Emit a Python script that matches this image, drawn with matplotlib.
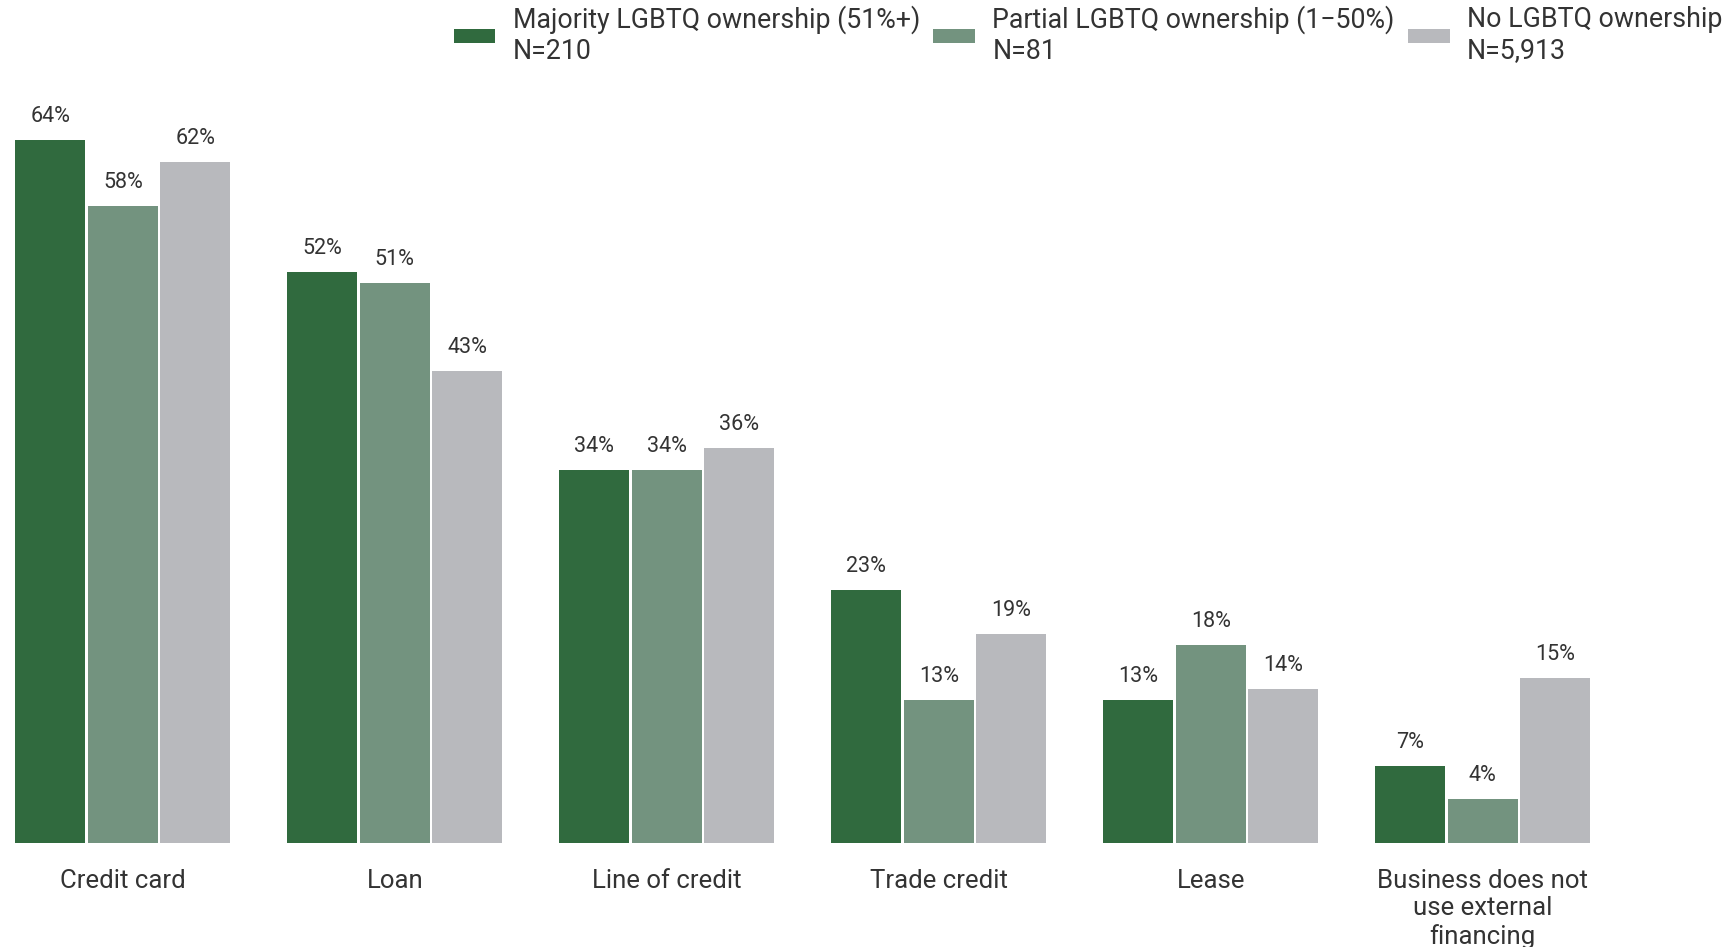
import numpy as np
import matplotlib
matplotlib.use("Agg")
import matplotlib.pyplot as plt

plt.rcParams['font.family'] = ['Roboto', 'DejaVu Sans']

# data
categories = ['Credit card', 'Loan', 'Line of credit', 'Trade credit', 'Lease',
              'Business does not\nuse external\nfinancing']
majority = [64, 52, 34, 23, 13, 7]
partial = [58, 51, 34, 13, 18, 4]
no_lgbtq = [62, 43, 36, 19, 14, 15]
series_names = ['Majority LGBTQ ownership (51%+)\nN=210',
                'Partial LGBTQ ownership (1\u221250%)\nN=81',
                'No LGBTQ ownership\nN=5,913']
colors = ['#306a3e', '#73937f', '#b8b9bd']
text_color = '#333333'

fig = plt.figure(figsize=(17.27, 9.47), dpi=100)
ax = fig.add_axes([8.6 / 1727, 104 / 947, (1646 - 8.6) / 1727, 768.6 / 947])

x = np.arange(len(categories))
step = 0.2667
width = 0.257
for i, (vals, name, c) in enumerate(zip([majority, partial, no_lgbtq], series_names, colors)):
    pos = x + (i - 1) * step
    bars = ax.bar(pos, vals, width=width, color=c, label=name)
    for b, v in zip(bars, vals):
        ax.annotate(f"{v}%", (b.get_x() + b.get_width() / 2, v),
                    xytext=(0, 13), textcoords='offset points',
                    ha='center', va='baseline', fontsize=15.5, color=text_color)

ax.set_xlim(-0.42, 5.6)
ax.set_ylim(0, 70)
ax.set_xticks(x)
ax.set_xticklabels(categories, fontsize=18.5, color=text_color, linespacing=1.2, va='top')
ax.tick_params(axis='x', length=0, pad=18.5)
ax.set_yticks([])
for s in ax.spines.values():
    s.set_visible(False)

fig.legend(loc='upper right', bbox_to_anchor=(1.002, 1.003), ncol=3, frameon=False,
           fontsize=19.3, handlelength=1.55, handleheight=0.42, handletextpad=0.65,
           columnspacing=0.5, borderaxespad=0.2, labelcolor=text_color,
           borderpad=0.1, labelspacing=0.3)

fig.savefig('out.png', dpi=100)
